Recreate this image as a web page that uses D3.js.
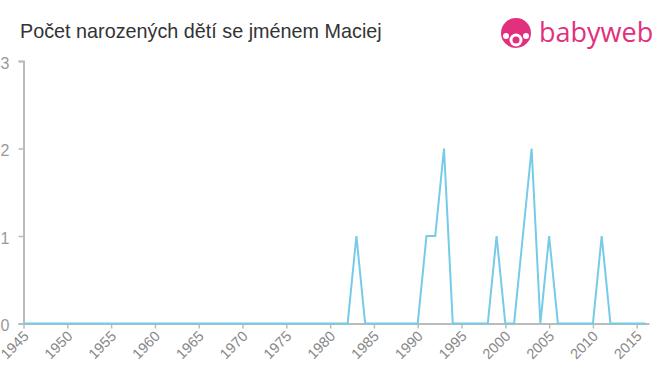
<!DOCTYPE html>
<html>
<head>
<meta charset="utf-8">
<script src="https://cdn.jsdelivr.net/npm/d3@7"></script>
<style>
  body { margin: 0; background: #fff; }
  svg { font-family: "Liberation Sans", Arial, sans-serif; display: block; }
</style>
</head>
<body>
<div id="chart"></div>
<script>
const title = "Počet narozených dětí se jménem Maciej";
const years = d3.range(1945, 2017);
// non-zero counts per year, everything else is 0
const counts = { 1983: 1, 1991: 1, 1992: 1, 1993: 2, 1999: 1, 2002: 1, 2003: 2, 2005: 1, 2011: 1 };
const values = years.map((y) => counts[y] || 0);
const xTicks = d3.range(1945, 2020, 5);
const yTicks = [0, 1, 2, 3];

const width = 660, height = 375;
const svg = d3.select("#chart").append("svg")
  .attr("width", width)
  .attr("height", height);

const x = d3.scaleLinear().domain([1945, 2016.4]).range([23.5, 649]);
const y = d3.scaleLinear().domain([0, 3]).range([323.5, 61]);

// title
svg.append("text")
  .attr("x", 20).attr("y", 38)
  .attr("fill", "#333")
  .style("font-size", "19.8px")
  .text(title);

// y axis
const yAxis = svg.append("g")
  .attr("transform", `translate(${x(1945)},0)`)
  .call(d3.axisLeft(y).tickValues(yTicks).tickFormat(d3.format("d")).tickSize(5).tickPadding(9));
yAxis.select(".domain").attr("stroke", "#bbb").attr("stroke-width", 2);
yAxis.selectAll(".tick line").attr("stroke", "#bbb").attr("stroke-width", 1.5);
yAxis.selectAll(".tick text")
  .attr("fill", "#999")
  .attr("dy", "0.45em")
  .style("font-size", "16px")
  .style("font-family", "'Liberation Sans', Arial, sans-serif");

// x axis
const xAxis = svg.append("g")
  .attr("transform", `translate(0,${y(0)})`)
  .call(d3.axisBottom(x).tickValues(xTicks).tickFormat(d3.format("d")).tickSize(5).tickSizeOuter(0));
xAxis.select(".domain").attr("stroke", "#bbb").attr("stroke-width", 2);
xAxis.selectAll(".tick line").attr("stroke", "#bbb").attr("stroke-width", 1.5);
xAxis.selectAll(".tick text")
  .attr("fill", "#888")
  .style("font-size", "14.5px")
  .style("font-family", "'Liberation Sans', Arial, sans-serif")
  .attr("text-anchor", "end")
  .attr("x", 0).attr("y", 0)
  .attr("dx", 0)
  .attr("dy", "0.35em")
  .attr("transform", "translate(2,10) rotate(-45)");

// line
const line = d3.line()
  .x((d, i) => x(years[i]))
  .y((d) => y(d));
svg.append("path")
  .datum(values)
  .attr("fill", "none")
  .attr("stroke", "#76cbe8")
  .attr("stroke-width", 2)
  .attr("d", line);

// logo
const logo = svg.append("g").attr("transform", "translate(516,33)");
logo.append("circle").attr("r", 15).attr("fill", "#e2307c");
logo.append("circle").attr("cx", 0).attr("cy", 7).attr("r", 6.5).attr("fill", "#fff");
logo.append("circle").attr("cx", 0).attr("cy", 7).attr("r", 3.5).attr("fill", "#e2307c");
logo.append("circle").attr("cx", -10).attr("cy", 3).attr("r", 3).attr("fill", "#fff");
logo.append("circle").attr("cx", 10).attr("cy", 3).attr("r", 3).attr("fill", "#fff");
logo.append("text")
  .attr("x", 23).attr("y", 9)
  .attr("fill", "#e2307c")
  .style("font-size", "27px")
  .style("font-family", "'Open Sans', 'DejaVu Sans', sans-serif")
  .text("babyweb");
</script>
</body>
</html>
